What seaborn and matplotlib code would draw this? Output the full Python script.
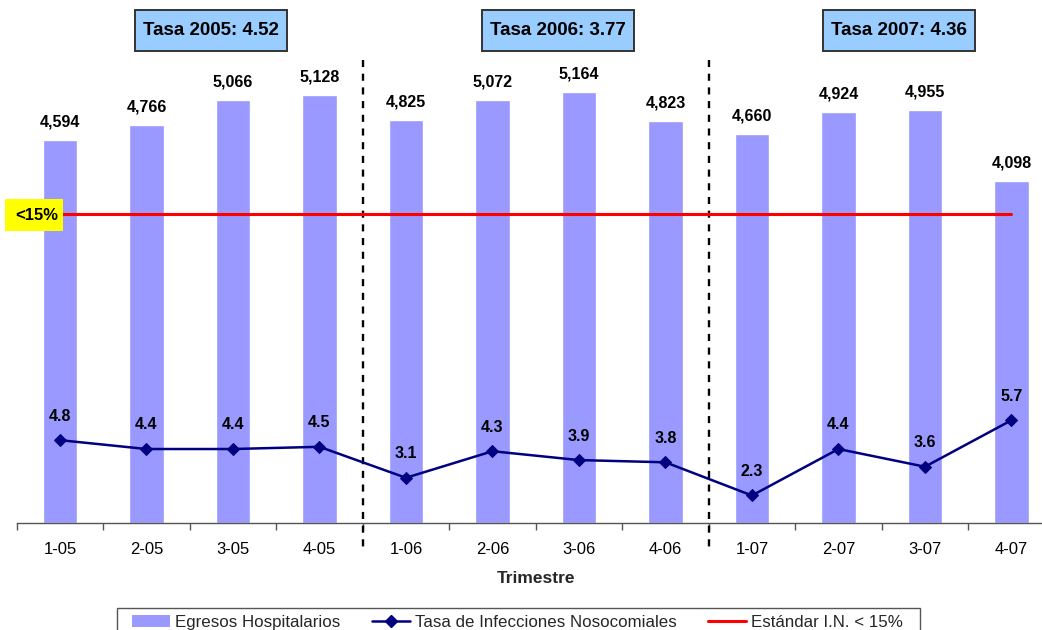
import numpy as np
import pandas as pd
import matplotlib
matplotlib.use("Agg")
import matplotlib.pyplot as plt
from matplotlib.patches import Rectangle, Patch
from matplotlib.lines import Line2D
import seaborn as sns

# Quarterly data
trimestres = ["1-05", "2-05", "3-05", "4-05",
              "1-06", "2-06", "3-06", "4-06",
              "1-07", "2-07", "3-07", "4-07"]
egresos = [4594, 4766, 5066, 5128, 4825, 5072, 5164, 4823, 4660, 4924, 4955, 4098]
tasa_in = [4.8, 4.4, 4.4, 4.5, 3.1, 4.3, 3.9, 3.8, 2.3, 4.4, 3.6, 5.7]
estandar = 15
anios = ["2005", "2006", "2007"]
tasa_anual = [4.52, 3.77, 4.36]

BAR_COLOR = "#9999FF"
LINE_COLOR = "#000080"
STD_COLOR = "#FF0000"

sns.set_style("white")
plt.rcParams["font.family"] = ["Liberation Sans", "DejaVu Sans"]

W, H = 1042, 630
fig = plt.figure(figsize=(W / 100, H / 100), dpi=100)


def fx(px):
    return px / W


def fy(py):
    return 1 - py / H


ax = fig.add_axes([fx(16.7), fy(522.5), 1038 / W, 500 / H])

n = len(trimestres)
df = pd.DataFrame({
    "trimestre": trimestres,
    "pos": np.arange(n),
    "egresos": egresos,
    "tasa": tasa_in,
    "estandar": [estandar] * n,
})

# Bars: hospital discharges
sns.barplot(data=df, x="trimestre", y="egresos", color=BAR_COLOR, saturation=1,
            width=0.4, errorbar=None, ax=ax, zorder=2)
ax.set_ylim(0, 6000)
ax.set_xlim(-0.5, n - 0.5)

for i, v in enumerate(egresos):
    ax.annotate(f"{v:,}", (i, v), xytext=(0, 13), textcoords="offset points",
                ha="center", va="center", fontsize=11.5, fontweight="bold",
                color="black")

# Secondary axis: infection rate and standard
ax2 = ax.twinx()
sns.lineplot(data=df, x="pos", y="estandar", color=STD_COLOR, linewidth=2.2,
             ax=ax2, zorder=3)
sns.lineplot(data=df, x="pos", y="tasa", color=LINE_COLOR, linewidth=1.8,
             marker="D", markersize=6.5, markeredgecolor=LINE_COLOR, ax=ax2,
             zorder=4)
ax2.set_ylim(1.08, 23.67)
ax2.set_xlim(-0.5, n - 0.5)

for i, v in enumerate(tasa_in):
    ax2.annotate(f"{v:.1f}", (i, v), xytext=(0, 17.3), textcoords="offset points",
                 ha="center", va="center", fontsize=11.5, fontweight="bold",
                 color="black")

# Year separators
per_year = n // len(anios)
for k in range(1, len(anios)):
    xs = k * per_year - 0.5
    ax.plot([xs, xs], [0.926, -0.052], transform=ax.get_xaxis_transform(),
            clip_on=False, color="black", lw=1.7, dashes=(3.0, 2.8), zorder=5)

# Axes styling
for a in (ax, ax2):
    for s in ("top", "left", "right"):
        a.spines[s].set_visible(False)
    a.set_ylabel("")
    a.set_yticks([])
ax2.spines["bottom"].set_visible(False)
ax.spines["bottom"].set_color("#555555")
ax.spines["bottom"].set_linewidth(1.0)

ax.set_xticks(np.arange(n))
ax.set_xticklabels(trimestres, fontsize=12)
ax.set_xticks(np.arange(n + 1) - 0.5, minor=True)
ax.tick_params(axis="x", which="major", bottom=True, length=0, pad=14,
               colors="black")
ax.tick_params(axis="x", which="minor", bottom=True, length=5, width=1,
               color="#555555", direction="out")
ax2.tick_params(axis="x", which="both", length=0, labelbottom=False)
ax2.set_xlabel("")
ax.set_xlabel("Trimestre", fontsize=12.5, fontweight="bold", labelpad=10)

# Annual rate boxes
box_centers_px = [211, 558, 899]
box_w, box_h, box_cy = 152, 41, 30.5
for cx, anio, t in zip(box_centers_px, anios, tasa_anual):
    fig.add_artist(Rectangle((fx(cx - box_w / 2), fy(box_cy + box_h / 2)),
                             box_w / W, box_h / H, transform=fig.transFigure,
                             facecolor="#99CCFF", edgecolor="#333333", lw=1.4))
    fig.text(fx(cx), fy(box_cy), f"Tasa {anio}: {t:.2f}", ha="center",
             va="center", fontsize=13.5, fontweight="bold", color="black")

# Standard label
fig.add_artist(Rectangle((fx(5), fy(231)), 58 / W, 32 / H,
                         transform=fig.transFigure, facecolor="#FFFF00",
                         edgecolor="none"))
fig.text(fx(37), fy(215), f"<{estandar}%", ha="center", va="center",
         fontsize=12, fontweight="bold", color="black")

# Legend (frame drawn separately)
fig.add_artist(Rectangle((fx(117), fy(645)), (920 - 117) / W, 37 / H,
                         transform=fig.transFigure, facecolor="white",
                         edgecolor="#555555", lw=1.0))
handles = [
    Patch(facecolor=BAR_COLOR, edgecolor="none"),
    Line2D([], [], color=LINE_COLOR, lw=1.8, marker="D", markersize=6.5),
    Line2D([], [], color=STD_COLOR, lw=2.2),
]
labels = ["Egresos Hospitalarios", "Tasa de Infecciones Nosocomiales",
          f"Estándar I.N. < {estandar}%"]
leg = fig.legend(handles, labels, loc="upper left",
                 bbox_to_anchor=(fx(132), fy(615)), ncol=3, frameon=False,
                 fontsize=12.2, handlelength=2.25, handletextpad=0.3,
                 columnspacing=1.85, borderpad=0, borderaxespad=0)

fig.savefig("out.png", dpi=100)
